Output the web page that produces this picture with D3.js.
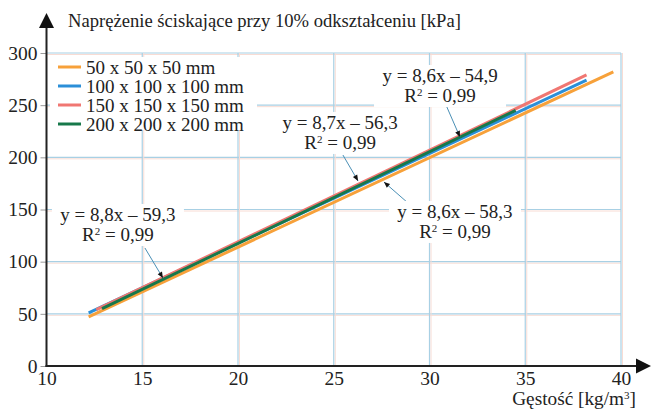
<!DOCTYPE html>
<html>
<head>
<meta charset="utf-8">
<script src="https://cdn.jsdelivr.net/npm/d3@7"></script>
<style>
body { margin: 0; background: #fff; }
text { font-family: "Liberation Serif", "Times New Roman", serif; fill: #222; }
</style>
</head>
<body>
<div id="chart"></div>
<script>
// data
var series = ["50 x 50 x 50 mm", "100 x 100 x 100 mm", "150 x 150 x 150 mm", "200 x 200 x 200 mm"];
var colors = ["#f7a13a", "#2b8fd8", "#f07772", "#17784a"];
var density = [[12.2, 39.6], [12.2, 38.2], [12.6, 38.2], [12.9, 34.5]];
var stress = [[47, 282], [51, 274], [54, 279], [55, 245]];
var xTicks = [10, 15, 20, 25, 30, 35, 40];
var yTicks = [0, 50, 100, 150, 200, 250, 300];
var eqLines = ["y = 8,6x – 54,9", "y = 8,7x – 56,3", "y = 8,6x – 58,3", "y = 8,8x – 59,3"];
// label anchor, pointer start and pointer end, in data units
var eqAt = [[30.55, 272.2], [25.33, 227.2], [31.33, 141.9], [13.73, 139]];
var eqFrom = [[30.86, 250.2], [25.48, 202.2], [28.88, 156.2], [15.14, 113.1]];
var eqPoint = [[31.59, 219.5], [26.27, 177.3], [27.62, 176.4], [16.08, 84.3]];

var width = 651, height = 412;
var svg = d3.select("#chart").append("svg")
    .attr("width", width).attr("height", height);

var x = d3.scaleLinear().domain([10, 40]).range([46.5, 621]);
var y = d3.scaleLinear().domain([0, 300]).range([366, 53]);

// grid
var grid = svg.append("g");
yTicks.slice(1).forEach(function(t) {
  grid.append("line").attr("x1", x(10)).attr("x2", x(40)).attr("y1", y(t) + 1.5).attr("y2", y(t) + 1.5)
    .style("stroke", "#f8dcd4").style("stroke-width", 1);
  grid.append("line").attr("x1", x(10)).attr("x2", x(40)).attr("y1", y(t)).attr("y2", y(t))
    .style("stroke", "#a8d0e4").style("stroke-width", 1.2);
});
xTicks.slice(1).forEach(function(t) {
  grid.append("line").attr("x1", x(t) + 1.5).attr("x2", x(t) + 1.5).attr("y1", y(300)).attr("y2", y(0))
    .style("stroke", "#f8dcd4").style("stroke-width", 1);
  grid.append("line").attr("x1", x(t)).attr("x2", x(t)).attr("y1", y(300)).attr("y2", y(0))
    .style("stroke", "#a8d0e4").style("stroke-width", 1.2);
});

// lines
var line = d3.line().x(function(d) { return x(d[0]); }).y(function(d) { return y(d[1]); });
series.forEach(function(s, i) {
  var pts = density[i].map(function(dx, j) { return [dx, stress[i][j]]; });
  svg.append("path").datum(pts).attr("d", line)
    .style("fill", "none").style("stroke", colors[i]).style("stroke-width", 3);
});

// axes
var xAxis = svg.append("g").attr("transform", "translate(0," + y(0) + ")")
  .call(d3.axisBottom(x).tickValues(xTicks).tickSize(0).tickPadding(5));
xAxis.select(".domain").remove();
xAxis.selectAll("text").style("font-size", "19.5px").style("fill", "#222");
var yAxis = svg.append("g").attr("transform", "translate(" + x(10) + ",0)")
  .call(d3.axisLeft(y).tickValues(yTicks).tickSize(6).tickPadding(3));
yAxis.select(".domain").remove();
yAxis.selectAll("line").style("stroke", "#999");
yAxis.selectAll("text").style("font-size", "19.5px").style("fill", "#222");

svg.append("line").attr("x1", x(10)).attr("x2", x(10)).attr("y1", y(0) + 1).attr("y2", 24)
  .style("stroke", "#222").style("stroke-width", 2);
svg.append("path").attr("d", "M" + x(10) + ",13 L" + (x(10) - 7.5) + ",28 L" + (x(10) + 7.5) + ",28 Z")
  .style("fill", "#111");
svg.append("line").attr("x1", x(10) - 1).attr("x2", 640).attr("y1", y(0)).attr("y2", y(0))
  .style("stroke", "#222").style("stroke-width", 2);
svg.append("path").attr("d", "M651," + y(0) + " L636," + (y(0) - 7.5) + " L636," + (y(0) + 7.5) + " Z")
  .style("fill", "#111");

svg.append("text").attr("x", 68).attr("y", 27).style("font-size", "18.6px")
  .text("Naprężenie ściskające przy 10% odkształceniu [kPa]");
var xl = svg.append("text").attr("x", 636).attr("y", 405).attr("text-anchor", "end").style("font-size", "19.3px");
xl.append("tspan").text("Gęstość [kg/m");
xl.append("tspan").attr("dy", -6).style("font-size", "11px").text("3");
xl.append("tspan").attr("dy", 6).text("]");

// legend
var lg = svg.append("g");
lg.append("rect").attr("x", 50).attr("y", 57).attr("width", 207).attr("height", 73).style("fill", "#fff");
series.forEach(function(s, i) {
  var ly = 67 + i * 19;
  lg.append("line").attr("x1", 58).attr("x2", 81).attr("y1", ly).attr("y2", ly)
    .style("stroke", colors[i]).style("stroke-width", 3);
  lg.append("text").attr("x", 86).attr("y", ly + 6.5).style("font-size", "19px").text(s);
});

// trend line labels
eqLines.forEach(function(t, i) {
  var cx = x(eqAt[i][0]), cy = y(eqAt[i][1]);
  var fx = x(eqFrom[i][0]), fy = y(eqFrom[i][1]);
  var px = x(eqPoint[i][0]), py = y(eqPoint[i][1]);
  svg.append("line").attr("x1", fx).attr("y1", fy).attr("x2", px).attr("y2", py)
    .style("stroke", "#4a8fb5").style("stroke-width", 1);
  var ang = Math.atan2(py - fy, px - fx);
  svg.append("path")
    .attr("d", "M0,0 L-6,-2.5 L-6,2.5 Z")
    .attr("transform", "translate(" + px + "," + py + ") rotate(" + ang * 180 / Math.PI + ")")
    .style("fill", "#111");
  var g = svg.append("g");
  g.append("rect").attr("x", cx - 66).attr("y", cy - 17).attr("width", 132).attr("height", 42)
    .style("fill", "#fff");
  g.append("text").attr("x", cx).attr("y", cy).attr("text-anchor", "middle").style("font-size", "19px").text(t);
  var r = g.append("text").attr("x", cx).attr("y", cy + 20).attr("text-anchor", "middle").style("font-size", "19px");
  r.append("tspan").text("R");
  r.append("tspan").attr("dy", -6).style("font-size", "11px").text("2");
  r.append("tspan").attr("dy", 6).text(" = 0,99");
});
</script>
</body>
</html>
